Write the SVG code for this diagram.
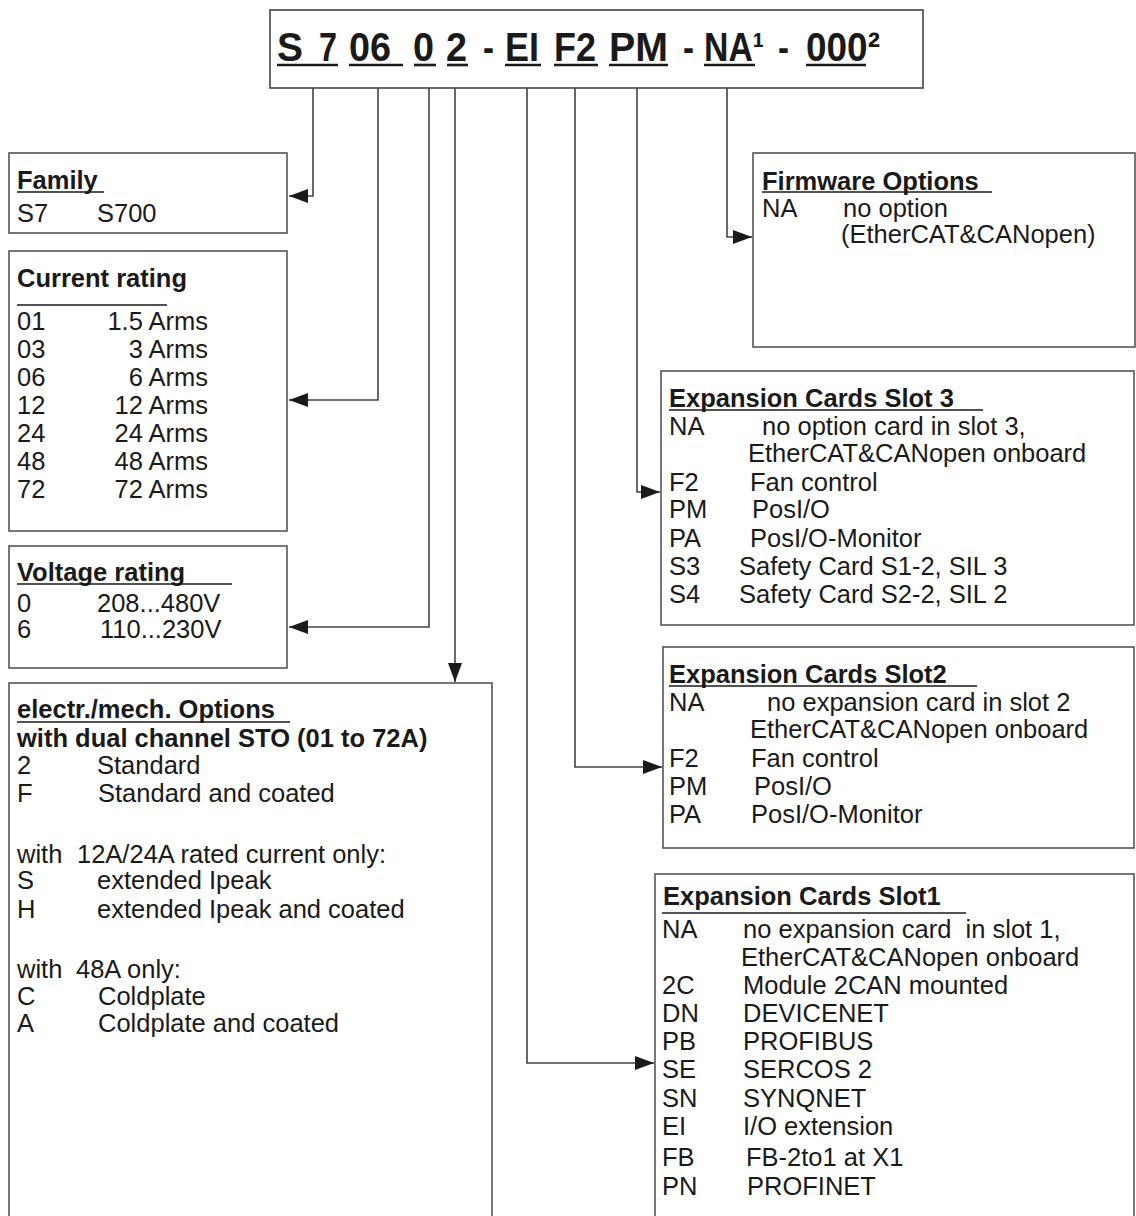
<svg xmlns="http://www.w3.org/2000/svg" width="1136" height="1216" viewBox="0 0 1136 1216">
<style>
text{font-family:"Liberation Sans",Arial,sans-serif;font-size:25.5px;fill:#1a1a1a}
.b{font-weight:bold}
.big{font-weight:bold;font-size:41px}
.box{fill:#fff;stroke:#555;stroke-width:1.6}
.ul{stroke:#1a1a1a;stroke-width:1.6}
.tul{stroke:#1a1a1a;stroke-width:2.6}
.con{fill:none;stroke:#444;stroke-width:1.6}
.e{text-anchor:end}
</style>
<defs>
<marker id="ah" markerUnits="userSpaceOnUse" markerWidth="20" markerHeight="14" refX="19" refY="7" orient="auto">
<path d="M0,0 L19,7 L0,14 z" fill="#1a1a1a"/>
</marker>
</defs>
<rect width="1136" height="1216" fill="#fff"/>

<g id="title">
<rect class="box" x="270" y="10" width="653" height="78" style="stroke:#444"/>
<text class="big" x="277" y="61" textLength="26" lengthAdjust="spacingAndGlyphs">S</text>
<text class="big" x="319" y="61" textLength="18" lengthAdjust="spacingAndGlyphs">7</text>
<text class="big" x="349" y="61" textLength="42" lengthAdjust="spacingAndGlyphs">06</text>
<text class="big" x="413" y="61" textLength="21" lengthAdjust="spacingAndGlyphs">0</text>
<text class="big" x="446" y="61" textLength="21" lengthAdjust="spacingAndGlyphs">2</text>
<text class="big" x="483" y="61" textLength="11" lengthAdjust="spacingAndGlyphs">-</text>
<text class="big" x="505" y="61" textLength="34" lengthAdjust="spacingAndGlyphs">EI</text>
<text class="big" x="554" y="61" textLength="42" lengthAdjust="spacingAndGlyphs">F2</text>
<text class="big" x="609" y="61" textLength="59" lengthAdjust="spacingAndGlyphs">PM</text>
<text class="big" x="683" y="61" textLength="11" lengthAdjust="spacingAndGlyphs">-</text>
<text class="big" x="704" y="61" textLength="60" lengthAdjust="spacingAndGlyphs">NA¹</text>
<text class="big" x="778" y="61" textLength="11" lengthAdjust="spacingAndGlyphs">-</text>
<text class="big" x="806" y="61" textLength="74" lengthAdjust="spacingAndGlyphs">000²</text>
<line class="tul" x1="277" y1="65" x2="338" y2="65"/>
<line class="tul" x1="349" y1="65" x2="403" y2="65"/>
<line class="tul" x1="414" y1="65" x2="436" y2="65"/>
<line class="tul" x1="447" y1="65" x2="468" y2="65"/>
<line class="tul" x1="505" y1="65" x2="541" y2="65"/>
<line class="tul" x1="554" y1="65" x2="598" y2="65"/>
<line class="tul" x1="609" y1="65" x2="668" y2="65"/>
<line class="tul" x1="704" y1="65" x2="755" y2="65"/>
<line class="tul" x1="806" y1="65" x2="866" y2="65"/>
</g>

<g id="connectors">
<path class="con" d="M313 88 V196 H289" marker-end="url(#ah)"/>
<path class="con" d="M378 88 V400 H289" marker-end="url(#ah)"/>
<path class="con" d="M429 88 V627 H289" marker-end="url(#ah)"/>
<path class="con" d="M455 88 V682" marker-end="url(#ah)"/>
<path class="con" d="M527 88 V1063 H654" marker-end="url(#ah)"/>
<path class="con" d="M575 88 V767 H662" marker-end="url(#ah)"/>
<path class="con" d="M637 88 V492 H660" marker-end="url(#ah)"/>
<path class="con" d="M727 88 V237 H752" marker-end="url(#ah)"/>
</g>

<g id="family">
<rect class="box" x="9" y="153" width="278" height="80"/>
<text class="b" x="17" y="189">Family</text>
<line class="ul" x1="17" y1="192" x2="104" y2="192"/>
<text x="17" y="222">S7</text>
<text x="97" y="222">S700</text>
</g>

<g id="current">
<rect class="box" x="9" y="251" width="278" height="280"/>
<text class="b" x="17" y="287">Current rating</text>
<line class="ul" x1="17" y1="305" x2="167" y2="305"/>
<text x="17" y="330">01</text><text class="e" x="208" y="330">1.5 Arms</text>
<text x="17" y="358">03</text><text class="e" x="208" y="358">3 Arms</text>
<text x="17" y="386">06</text><text class="e" x="208" y="386">6 Arms</text>
<text x="17" y="414">12</text><text class="e" x="208" y="414">12 Arms</text>
<text x="17" y="442">24</text><text class="e" x="208" y="442">24 Arms</text>
<text x="17" y="470">48</text><text class="e" x="208" y="470">48 Arms</text>
<text x="17" y="498">72</text><text class="e" x="208" y="498">72 Arms</text>
</g>

<g id="voltage">
<rect class="box" x="9" y="546" width="278" height="122"/>
<text class="b" x="17" y="581">Voltage rating</text>
<line class="ul" x1="17" y1="584" x2="232" y2="584"/>
<text x="17" y="612">0</text><text x="97" y="612">208...480V</text>
<text x="17" y="638">6</text><text x="100" y="638">110...230V</text>
</g>

<g id="options">
<rect class="box" x="9" y="683" width="483" height="560"/>
<text class="b" x="17" y="718">electr./mech. Options</text>
<line class="ul" x1="17" y1="722" x2="290" y2="722"/>
<text class="b" x="17" y="747">with dual channel STO (01 to 72A)</text>
<text x="17" y="774">2</text><text x="97" y="774">Standard</text>
<text x="17" y="802">F</text><text x="98" y="802">Standard and coated</text>
<text x="17" y="863">with</text><text x="77" y="863">12A/24A rated current only:</text>
<text x="17" y="889">S</text><text x="97" y="889">extended Ipeak</text>
<text x="17" y="918">H</text><text x="97" y="918">extended Ipeak and coated</text>
<text x="17" y="978">with</text><text x="76" y="978">48A only:</text>
<text x="17" y="1005">C</text><text x="98" y="1005">Coldplate</text>
<text x="17" y="1032">A</text><text x="98" y="1032">Coldplate and coated</text>
</g>

<g id="firmware">
<rect class="box" x="753" y="153" width="382" height="194"/>
<text class="b" x="762" y="190">Firmware Options</text>
<line class="ul" x1="762" y1="192" x2="992" y2="192"/>
<text x="762" y="217">NA</text><text x="843" y="217">no option</text>
<text x="841" y="243">(EtherCAT&amp;CANopen)</text>
</g>

<g id="slot3">
<rect class="box" x="661" y="371" width="473" height="254"/>
<text class="b" x="669" y="407">Expansion Cards Slot 3</text>
<line class="ul" x1="669" y1="410" x2="983" y2="410"/>
<text x="669" y="435">NA</text><text x="762" y="435">no option card in slot 3,</text>
<text x="748" y="462">EtherCAT&amp;CANopen onboard</text>
<text x="669" y="491">F2</text><text x="750" y="491">Fan control</text>
<text x="669" y="518">PM</text><text x="752" y="518">PosI/O</text>
<text x="669" y="547">PA</text><text x="750" y="547">PosI/O-Monitor</text>
<text x="669" y="575">S3</text><text x="739" y="575">Safety Card S1-2, SIL 3</text>
<text x="669" y="603">S4</text><text x="739" y="603">Safety Card S2-2, SIL 2</text>
</g>

<g id="slot2">
<rect class="box" x="663" y="647" width="471" height="201"/>
<text class="b" x="669" y="683">Expansion Cards Slot2</text>
<line class="ul" x1="669" y1="686" x2="977" y2="686"/>
<text x="669" y="711">NA</text><text x="767" y="711">no expansion card in slot 2</text>
<text x="750" y="738">EtherCAT&amp;CANopen onboard</text>
<text x="669" y="767">F2</text><text x="751" y="767">Fan control</text>
<text x="669" y="795">PM</text><text x="754" y="795">PosI/O</text>
<text x="669" y="823">PA</text><text x="751" y="823">PosI/O-Monitor</text>
</g>

<g id="slot1">
<rect class="box" x="655" y="874" width="479" height="370"/>
<text class="b" x="663" y="905">Expansion Cards Slot1</text>
<line class="ul" x1="662" y1="913" x2="966" y2="913"/>
<text x="662" y="938">NA</text><text x="743" y="938" xml:space="preserve">no expansion card  in slot 1,</text>
<text x="741" y="966">EtherCAT&amp;CANopen onboard</text>
<text x="662" y="994">2C</text><text x="743" y="994">Module 2CAN mounted</text>
<text x="662" y="1022">DN</text><text x="743" y="1022">DEVICENET</text>
<text x="662" y="1050">PB</text><text x="743" y="1050">PROFIBUS</text>
<text x="662" y="1078">SE</text><text x="743" y="1078">SERCOS 2</text>
<text x="662" y="1107">SN</text><text x="743" y="1107">SYNQNET</text>
<text x="662" y="1135">EI</text><text x="743" y="1135">I/O extension</text>
<text x="662" y="1166">FB</text><text x="746" y="1166">FB-2to1 at X1</text>
<text x="662" y="1195">PN</text><text x="747" y="1195">PROFINET</text>
</g>
</svg>
